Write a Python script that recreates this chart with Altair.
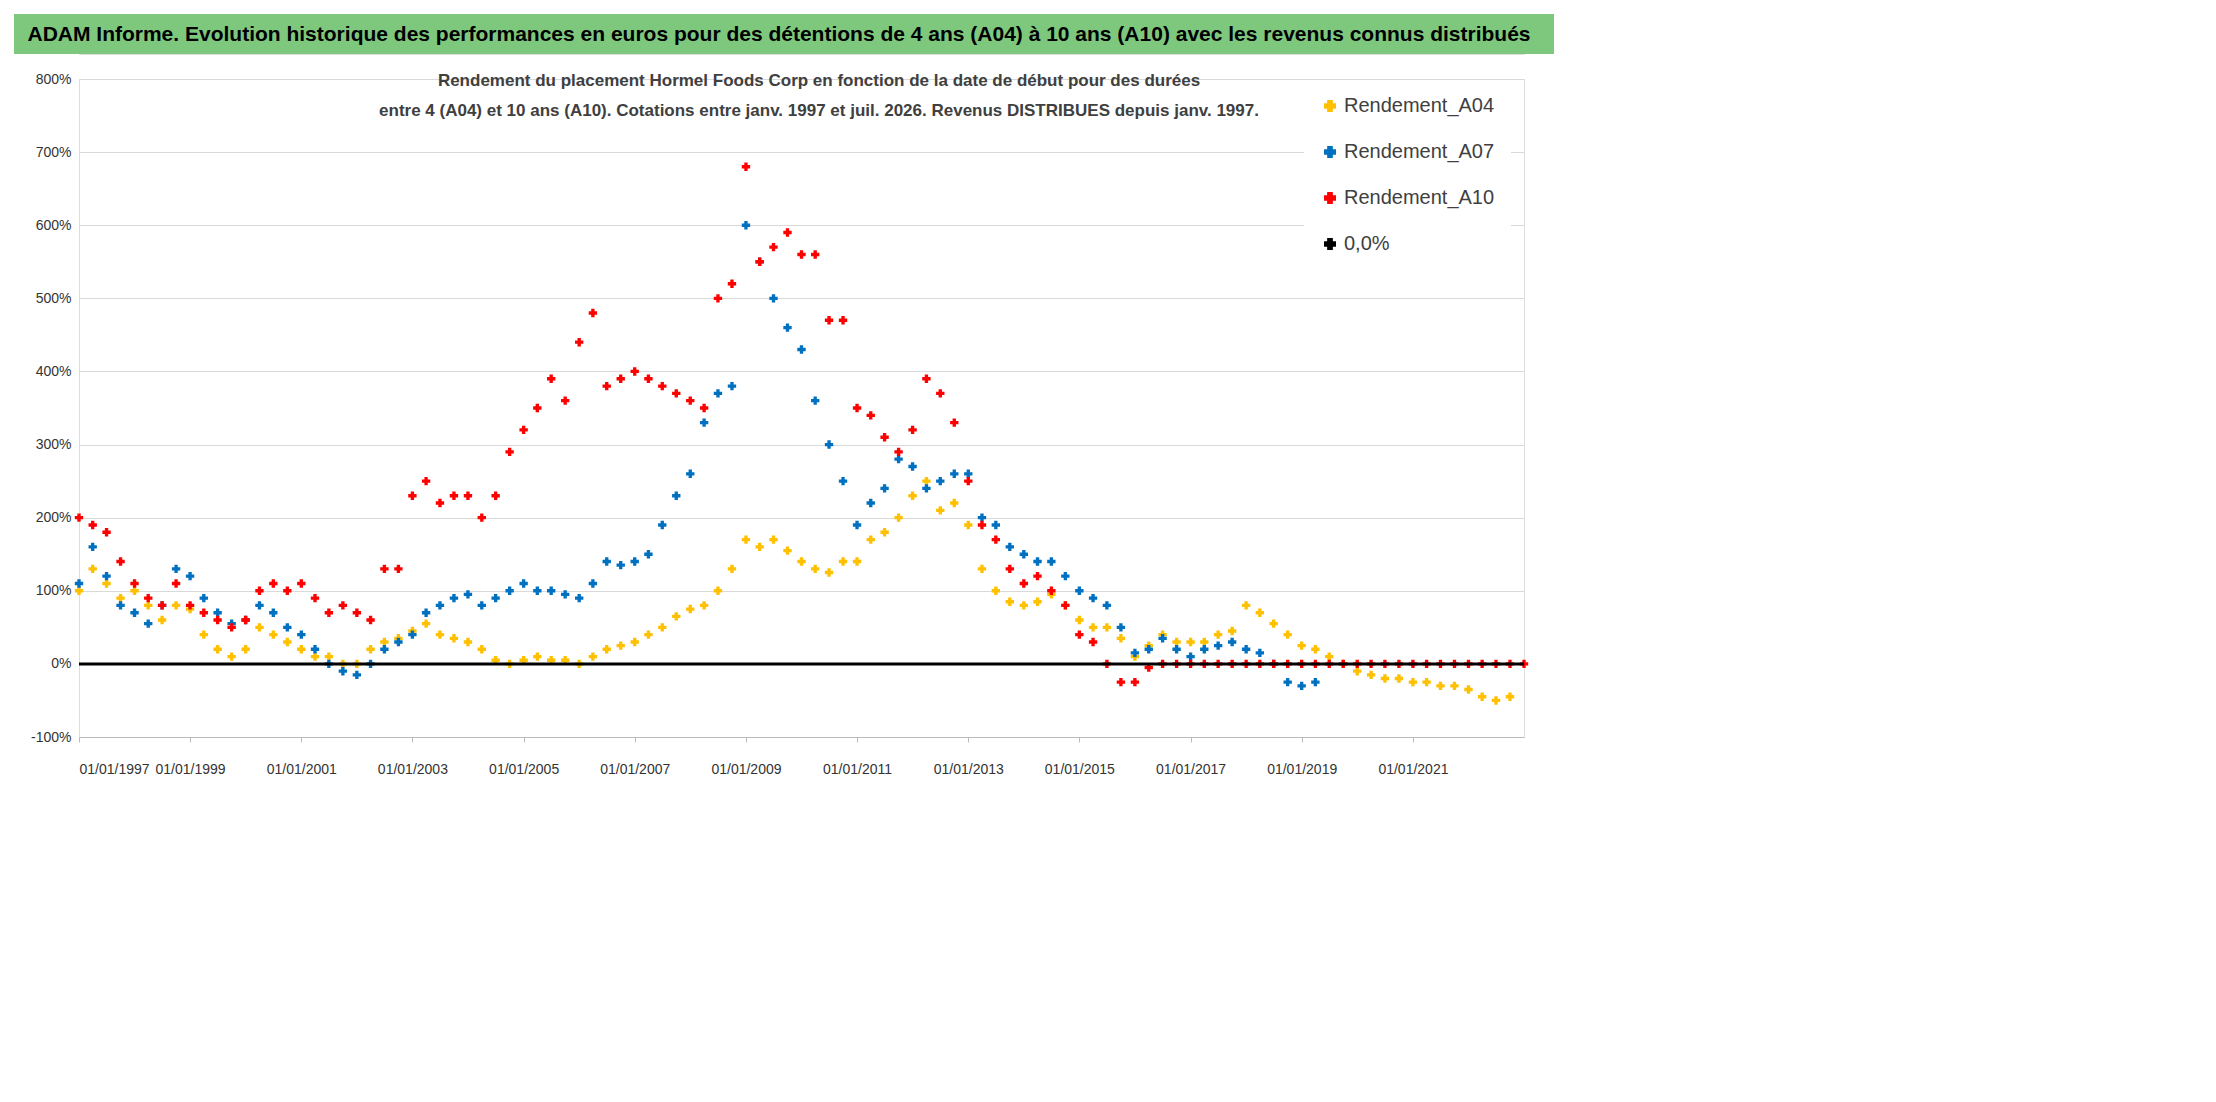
import altair as alt
import pandas as pd

# valeurs trimestrielles (en %)
a04 = [100, 130, 110, 90, 100, 80, 60, 80, 75, 40, 20, 10, 20, 50, 40, 30,
       20, 10, 10, 0, 0, 20, 30, 35, 45, 55, 40, 35, 30, 20, 5, 0,
       5, 10, 5, 5, 0, 10, 20, 25, 30, 40, 50, 65, 75, 80, 100, 130,
       170, 160, 170, 155, 140, 130, 125, 140, 140, 170, 180, 200, 230, 250, 210, 220,
       190, 130, 100, 85, 80, 85, 95, 80, 60, 50, 50, 35, 10, 25, 40, 30,
       30, 30, 40, 45, 80, 70, 55, 40, 25, 20, 10, 0, -10, -15, -20, -20,
       -25, -25, -30, -30, -35, -45, -50, -45]
a07 = [110, 160, 120, 80, 70, 55, 80, 130, 120, 90, 70, 55, 60, 80, 70, 50,
       40, 20, 0, -10, -15, 0, 20, 30, 40, 70, 80, 90, 95, 80, 90, 100,
       110, 100, 100, 95, 90, 110, 140, 135, 140, 150, 190, 230, 260, 330, 370, 380,
       600, 550, 500, 460, 430, 360, 300, 250, 190, 220, 240, 280, 270, 240, 250, 260,
       260, 200, 190, 160, 150, 140, 140, 120, 100, 90, 80, 50, 15, 20, 35, 20,
       10, 20, 25, 30, 20, 15, 0, -25, -30, -25]
a10 = [200, 190, 180, 140, 110, 90, 80, 110, 80, 70, 60, 50, 60, 100, 110, 100,
       110, 90, 70, 80, 70, 60, 130, 130, 230, 250, 220, 230, 230, 200, 230, 290,
       320, 350, 390, 360, 440, 480, 380, 390, 400, 390, 380, 370, 360, 350, 500, 520,
       680, 550, 570, 590, 560, 560, 470, 470, 350, 340, 310, 290, 320, 390, 370, 330,
       250, 190, 170, 130, 110, 120, 100, 80, 40, 30, 0, -25, -25, -5, 0, 0,
       0, 0, 0, 0, 0, 0, 0, 0, 0, 0, 0, 0, 0, 0, 0, 0,
       0, 0, 0, 0, 0, 0, 0, 0, 0]
annees_axe = list(range(1997, 2023, 2))
ligne1 = "Rendement du placement Hormel Foods Corp en fonction de la date de début pour des durées"
ligne2 = "entre 4 (A04) et 10 ans (A10). Cotations entre janv. 1997 et juil. 2026. Revenus DISTRIBUES depuis janv. 1997."
titre = "ADAM Informe. Evolution historique des performances en euros pour des détentions de 4 ans (A04) à 10 ans (A10) avec les revenus connus distribués"

series = {"Rendement_A04": a04, "Rendement_A07": a07, "Rendement_A10": a10}
rows = []
for name, vals in series.items():
    dates = pd.date_range("1997-01-01", periods=len(vals), freq="QS")
    for d, v in zip(dates, vals):
        rows.append({"date": d.strftime("%Y-%m-%d"), "serie": name, "v": v})
df = pd.DataFrame(rows)

noms = ["Rendement_A04", "Rendement_A07", "Rendement_A10", "0,0%"]
couleurs = ["#ffc000", "#0070c0", "#ff0000", "#000000"]
echelle = alt.Scale(domain=noms, range=couleurs)

W, H = 1445, 658
POLICE = "Liberation Sans"
xs = alt.Scale(domain=[alt.DateTime(year=1997, month=1, date=1), alt.DateTime(year=2023, month=1, date=1)])

points = alt.Chart(df).mark_point(shape="cross", size=70, filled=True, opacity=1).encode(
    x=alt.X("date:T", scale=xs,
            axis=alt.Axis(title=None, format="%d/%m/%Y",
                          values=[alt.DateTime(year=a, month=1, date=1) for a in annees_axe],
                          grid=False, labelFontSize=14, labelColor="#333", labelPadding=20,
                          domainColor="#bbb", tickColor="#bbb")),
    y=alt.Y("v:Q", scale=alt.Scale(domain=[-100, 800], nice=False),
            axis=alt.Axis(title=None, values=list(range(-100, 801, 100)), labelExpr="datum.value + '%'",
                          gridColor="#d9d9d9", labelFontSize=14, labelColor="#333", domain=False,
                          ticks=False, labelPadding=8)),
    color=alt.Color("serie:N", scale=echelle,
                    legend=alt.Legend(title=None, orient="none", legendX=1225, legendY=66,
                                      labelFontSize=20, labelColor="#404040", symbolType="cross",
                                      symbolSize=110, rowPadding=26, fillColor="white",
                                      padding=16, labelLimit=300)),
)

zero = alt.Chart(pd.DataFrame({"y": [0], "serie": ["0,0%"]})).mark_rule(strokeWidth=3).encode(
    y="y:Q", color=alt.Color("serie:N", scale=echelle))

st1 = alt.Chart(pd.DataFrame({"t": [ligne1]})).mark_text(
    fontSize=17, fontWeight="bold", color="#404040", font=POLICE).encode(
    text="t:N", x=alt.value(740), y=alt.value(2))
st2 = alt.Chart(pd.DataFrame({"t": [ligne2]})).mark_text(
    fontSize=17, fontWeight="bold", color="#404040", font=POLICE).encode(
    text="t:N", x=alt.value(740), y=alt.value(32))

main = alt.layer(points, zero, st1, st2).properties(width=W, height=H)

entete = alt.Chart(pd.DataFrame({"t": [titre]})).mark_text(
    fontSize=21, fontWeight="bold", color="black", font=POLICE).encode(
    text="t:N", x=alt.value(700), y=alt.value(21))
fond = alt.Chart(pd.DataFrame({"a": [0]})).mark_rect(color="#7ec87e").encode(
    x=alt.value(-65), x2=alt.value(1475), y=alt.value(0), y2=alt.value(40))
haut = alt.layer(fond, entete).properties(width=W, height=40)

chart = alt.vconcat(haut, main, spacing=16).configure_view(stroke=None).configure(
    font=POLICE).configure_axis(labelFont=POLICE)
chart.save("out.html", embed_options={"renderer": "svg", "actions": False})
